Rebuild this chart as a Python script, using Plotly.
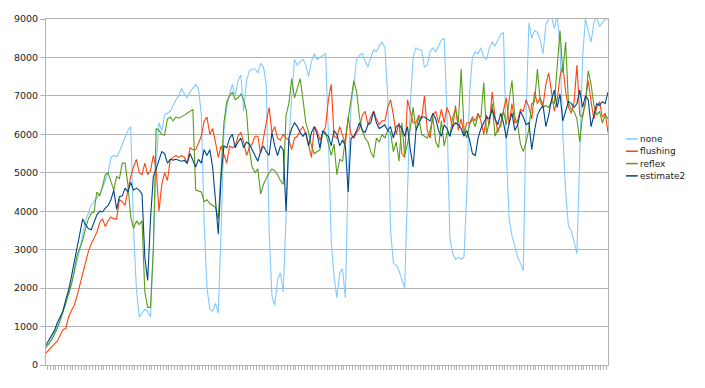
import plotly.graph_objects as go

series_names = ["none", "flushing", "reflex", "estimate2"]
series_colors = ["#83CAFF", "#FF420E", "#579D1C", "#004586"]
y_ticks = [0, 1000, 2000, 3000, 4000, 5000, 6000, 7000, 8000, 9000]

none = [
    460, 560, 700, 850, 1000, 1200, 1400, 1600, 1850, 2100,
    2400, 2700, 3000, 3400, 3750, 3950, 4150, 4250, 4350, 4450,
    4600, 4800, 5000, 5400, 5450, 5420, 5550, 5750, 5950, 6100,
    6200, 3500, 2000, 1250, 1350, 1450, 1400, 1250, 3000, 5200,
    6300, 6100, 6500, 6550, 6600, 6750, 6900, 7000, 7200, 7050,
    6950, 7100, 7200, 7300, 7200, 6500, 3700, 2000, 1450, 1400,
    1600, 1350, 3500, 6100, 6700, 7050, 7300, 7000, 7400, 7550,
    6600, 7400, 7650, 7700, 7700, 7600, 7850, 7750, 7300, 3500,
    1800, 1550, 2200, 2400, 1900, 4000, 5800, 7000, 7950, 7800,
    7900, 7950, 7800, 7500, 7900, 8100, 7950, 8000, 8050, 8100,
    6000, 3200, 2300, 1750, 2400, 2500, 1750, 5000, 6700, 7400,
    7950, 8050, 8100, 7900, 7750, 8000, 8200, 8150, 8300, 8400,
    8250, 7000, 3500, 2650, 2600, 2450, 2250, 2000, 4500, 6800,
    8000, 8250, 8200, 8200, 7750, 7800, 8150, 8250, 8150, 8300,
    8450, 8500, 6500, 3300, 2900, 2750, 2800, 2750, 2800, 4500,
    7100, 8000, 8150, 8100, 8250, 8000, 7950, 8250, 8400, 8300,
    8450, 8600, 8650, 5500, 3800, 3350, 3100, 2800, 2650, 2450,
    6500, 8900, 8500, 8700, 8650, 8450, 8100, 8850, 9000, 9050,
    8750, 9100, 8300, 6000, 4500, 3600, 3500, 3200, 2900, 5500,
    8000, 9000, 8700, 8400, 8900, 9050, 8800, 8900, 9000, 9000,
]

flushing = [
    310, 400, 480, 550, 620, 780, 920, 950, 1250, 1420,
    1550, 1800, 2100, 2400, 2650, 2950, 3150, 3300, 3450, 3700,
    3800, 3600, 3750, 3850, 3800, 3800, 4300, 4250, 4150, 4550,
    4900, 5150, 5350, 5000, 4950, 5250, 4950, 5050, 5450, 5100,
    4000, 4700, 5000, 4800, 5350, 5400, 5450, 5400, 5450, 5400,
    5250, 5650, 5600, 5600, 5800, 5950, 6350, 6450, 6000, 6150,
    5800, 5400, 5700, 5500, 5250, 5700, 5650, 5700, 5950, 6050,
    5800, 5450, 5650, 5750, 5950, 5950, 5500, 5900, 6300, 6700,
    6050, 6200, 5900, 5850, 6000, 5900, 5850, 5600, 5900, 5950,
    6100, 6200, 6000, 5700, 5400, 6200, 6100, 5850, 6050, 6200,
    6900, 7300, 5950, 5900, 6200, 6000, 5750, 6450, 6000, 5900,
    6050, 6150, 6500, 6600, 6250, 6450, 6600, 6400, 6250, 6350,
    6350, 6700, 6900, 6500, 6000, 6300, 5500, 5400, 6900, 6600,
    6300, 6300, 6500, 6400, 7000, 6100, 5900, 6500, 6600, 6300,
    6650, 6300, 6700, 6500, 6150, 6750, 6100, 6400, 6000, 6300,
    6300, 6450, 6350, 6550, 6350, 6000, 6500, 6250, 7100, 6450,
    6050, 6300, 6650, 6950, 6250, 6800, 6300, 6350, 6650, 6600,
    6900, 6700, 6400, 7100, 6800, 6950, 6750, 7300, 7600, 7100,
    6600, 6900, 7500, 7800, 7100, 6700, 6550, 6850, 7800, 6500,
    6450, 6850, 7400, 6850, 6400, 6700, 6850, 6450, 6550, 6050,
]

reflex = [
    460, 560, 650, 800, 950, 1150, 1350, 1600, 1850, 2100,
    2450, 2850, 3050, 3250, 3550, 3800, 3950, 3980, 4500, 4400,
    4650, 4950, 5000, 4750, 4550, 4900, 4850, 5250, 5250, 4700,
    3850, 3550, 3750, 3650, 3750, 1900, 1500, 1500, 3000, 6150,
    6100, 6000, 5980, 6400, 6450, 6350, 6450, 6420, 6450, 6500,
    6550, 6600, 6650, 4550, 4520, 4500, 4250, 4300, 4200, 4150,
    4100, 3800, 5000, 6300, 6850, 7000, 7100, 6900, 6950, 7050,
    6900, 6600, 5600, 5150, 5000, 5100, 4450, 4700, 4850, 5000,
    5100, 5050, 4950, 4800, 4700, 6500, 6800, 7450, 6950, 7200,
    7450, 6900, 6300, 6050, 5700, 5500, 5550, 5600, 6050, 6050,
    5750, 5450, 5750, 4950, 5350, 5300, 5900, 6400, 6950, 7400,
    7100, 6450, 6100, 5900, 5800, 5550, 5400, 5900, 5800, 6000,
    5900, 6100, 6050, 5550, 5800, 5300, 6300, 5450, 5750, 6150,
    6700, 6100, 6450, 6000, 5950, 5900, 6100, 6450, 5800, 5650,
    6350, 5700, 6050, 5950, 6450, 6650, 6300, 7700, 6150, 5900,
    6250, 6400, 6200, 6500, 6450, 7350, 6000, 6350, 6800, 5950,
    6150, 6200, 6600, 6250, 6900, 7400, 6450, 6250, 5750, 5550,
    5800, 6150, 6800, 6850, 7700, 6850, 6700, 6750, 6700, 6850,
    6800, 7800, 8700, 7600, 8400, 6800, 6650, 6600, 6400, 5800,
    6500, 6800, 7650, 7300, 6750, 6500, 6600, 6300, 6500, 6400,
]

estimate2 = [
    520, 650, 780, 900, 1100, 1250, 1400, 1700, 1950, 2300,
    2700, 3100, 3400, 3800, 3650, 3550, 3520, 3700, 3900, 4000,
    3980, 4080, 4150, 4300, 4550, 4050, 4380, 4400, 4600, 4500,
    4750, 4550, 4600, 4550, 4450, 2800, 2200, 3800, 4900, 5100,
    5350, 5550, 5500, 5250, 5350, 5330, 5350, 5330, 5300, 5320,
    5250, 5500, 5300, 5150, 5350, 5250, 5600, 5450, 5600, 5150,
    4300, 3400, 4900, 5700, 5650, 5900, 6000, 5650, 5800, 5900,
    5650, 5800, 5750, 5600, 5450, 5300, 5550, 5700, 5550, 5450,
    6050, 5700, 5450, 5700, 5600, 4000, 5900, 6150, 6300, 6200,
    6050, 5950, 6050, 5700, 6050, 6200, 6000, 5650, 6100, 6000,
    5950, 5700, 6100, 6000, 5700, 5850, 5700, 4500, 5900, 5950,
    6100, 6300, 6100, 6050, 6250, 6300, 6600, 6300, 6150, 6200,
    6250, 6100, 6200, 5900, 6200, 6250, 6150, 5950, 6200, 5600,
    5150, 6100, 6300, 6450, 6450, 6400, 6350, 6550, 6400, 6100,
    5950, 6250, 6150, 5950, 6200, 6300, 6250, 6150, 5950, 6100,
    5850, 5500, 5450, 5900, 6150, 6300, 6450, 6400, 6650, 6400,
    6250, 6550, 6300, 5900, 6300, 6550, 6100, 6250, 6600, 6450,
    6250, 6300, 5600, 6100, 6500, 6650, 6750, 6200, 6500, 6900,
    7150, 6700, 7050, 6350, 6600, 6850, 6800, 6700, 6800, 7150,
    6700, 7000, 6900, 6200, 6500, 6800, 6750, 6850, 6800, 7100,
]

all_series = [none, flushing, reflex, estimate2]
categories = list(range(1, len(none) + 1))

GRID = "#b3b3b3"
FONT = "DejaVu Sans"

fig = go.Figure()
for name, color, values in zip(series_names, series_colors, all_series):
    fig.add_trace(go.Scatter(
        x=categories, y=values, mode="lines", name=name,
        line=dict(color=color, width=1.1), showlegend=False,
        hoverinfo="skip",
    ))

# manual legend (short line keys like the original)
legend_y0 = 0.6534
legend_step = 0.0356
for k, (name, color) in enumerate(zip(series_names, series_colors)):
    yy = legend_y0 - k * legend_step
    fig.add_shape(type="line", xref="paper", yref="paper",
                  x0=1.032, x1=1.053, y0=yy, y1=yy,
                  line=dict(color=color, width=1.5))
    fig.add_annotation(xref="paper", yref="paper", x=1.053, y=yy,
                       text=name, showarrow=False, xanchor="left",
                       yanchor="middle", font=dict(family=FONT, size=9, color="#222"))

# page body has an 8px default margin, so the figure is 8px smaller
fig.update_layout(
    width=697, height=380,
    margin=dict(l=38, r=97, t=5, b=23),
    paper_bgcolor="white", plot_bgcolor="white",
    font=dict(family=FONT, size=10, color="#222"),
)
fig.update_xaxes(
    range=[1, len(none)], showgrid=False, zeroline=False,
    showline=True, linecolor=GRID, linewidth=1, mirror=True,
    tickmode="linear", tick0=1.5, dtick=1, ticks="outside", ticklen=4,
    tickcolor=GRID, tickwidth=1, showticklabels=False,
)
fig.update_yaxes(
    range=[0, 9000], tickvals=y_ticks, ticktext=[str(v) for v in y_ticks],
    showgrid=True, gridcolor=GRID, gridwidth=1, zeroline=False,
    showline=True, linecolor=GRID, linewidth=1, mirror=True,
    ticks="outside", ticklen=5, tickcolor=GRID, ticklabeloverflow="allow",
    tickfont=dict(family=FONT, size=9.5, color="#222"),
)

fig.write_html("out.html")
